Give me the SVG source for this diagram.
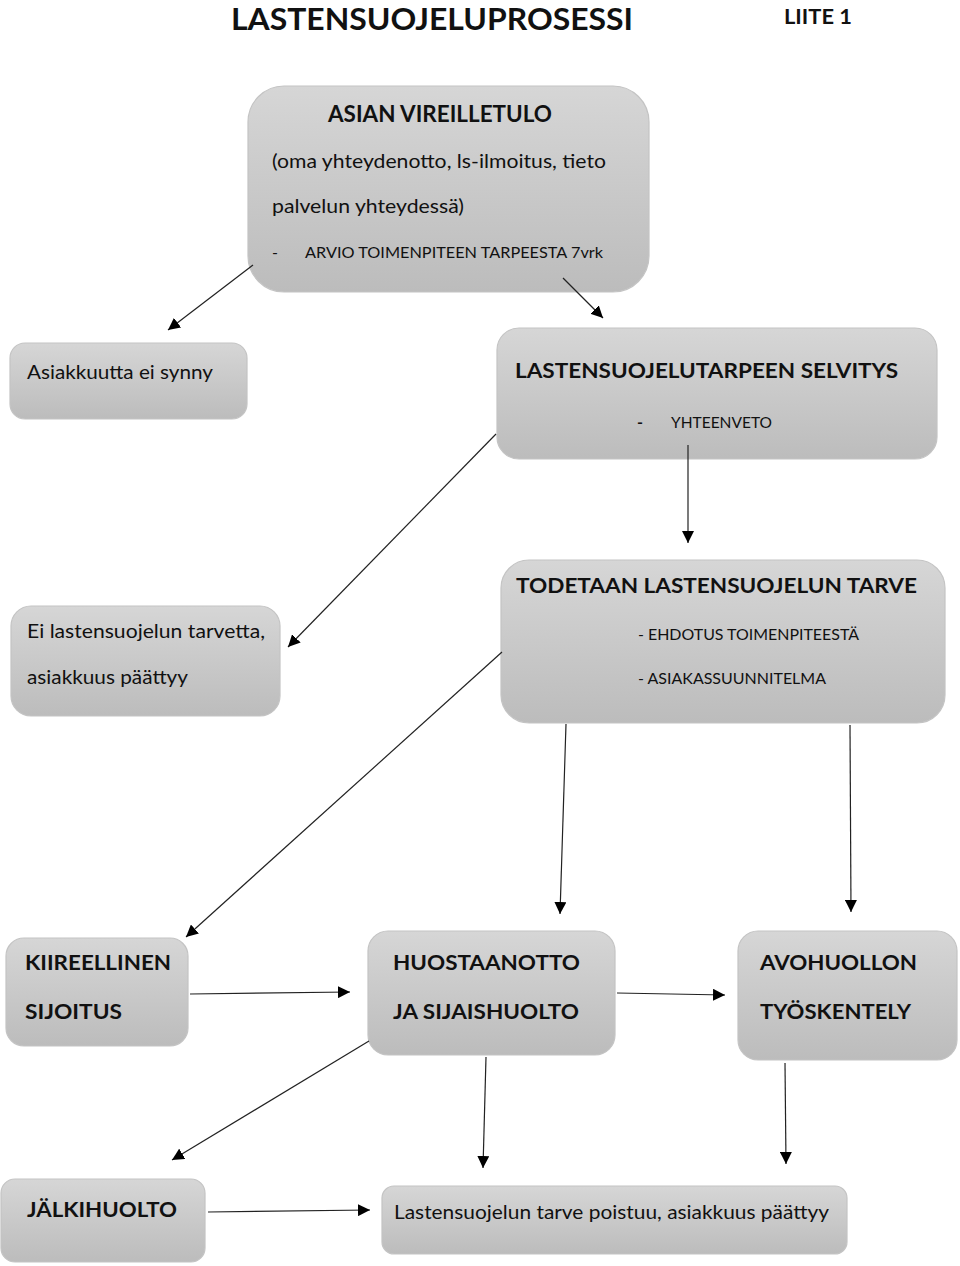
<svg xmlns="http://www.w3.org/2000/svg" width="960" height="1266" viewBox="0 0 960 1266">
<defs>
<linearGradient id="g" x1="0" y1="0" x2="0" y2="1">
<stop offset="0" stop-color="#d6d6d6"/>
<stop offset="1" stop-color="#bcbcbc"/>
</linearGradient>
<marker id="ah" viewBox="0 0 10 10" refX="10" refY="5" markerWidth="12" markerHeight="12" markerUnits="userSpaceOnUse" orient="auto">
<path d="M0,0 L10,5 L0,10 z" fill="#000"/>
</marker>
</defs>
<style>
.box{fill:url(#g);stroke:#c4c4c4;stroke-width:1.2}
text{font-family:Lato,"Open Sans","Liberation Sans",sans-serif;fill:#111}
.b{font-weight:bold}
.c line{stroke:#222;stroke-width:1.2;marker-end:url(#ah)}
</style>
<rect width="960" height="1266" fill="#fff"/>
<text class="b" x="231" y="30" font-size="30" textLength="402" lengthAdjust="spacingAndGlyphs">LASTENSUOJELUPROSESSI</text>
<text class="b" x="784" y="24" font-size="20" textLength="68" lengthAdjust="spacingAndGlyphs">LIITE 1</text>

<g id="vireilletulo">
<rect class="box" x="248" y="86" width="401" height="206" rx="36"/>
<text class="b" x="328" y="122" font-size="22" textLength="224" lengthAdjust="spacingAndGlyphs">ASIAN VIREILLETULO</text>
<text x="272" y="168" font-size="20" textLength="334" lengthAdjust="spacingAndGlyphs">(oma yhteydenotto, ls-ilmoitus, tieto</text>
<text x="272" y="213" font-size="20" textLength="192" lengthAdjust="spacingAndGlyphs">palvelun yhteydessä)</text>
<text x="272" y="258" font-size="16">-</text>
<text x="305" y="258" font-size="16" textLength="298" lengthAdjust="spacingAndGlyphs">ARVIO TOIMENPITEEN TARPEESTA 7vrk</text>
</g>
<g id="ei-synny">
<rect class="box" x="10" y="343" width="237" height="76" rx="15"/>
<text x="27" y="379" font-size="19.5" textLength="186" lengthAdjust="spacingAndGlyphs">Asiakkuutta ei synny</text>
</g>
<g id="selvitys">
<rect class="box" x="497" y="328" width="440" height="131" rx="22"/>
<text class="b" x="515" y="378" font-size="21" textLength="383" lengthAdjust="spacingAndGlyphs">LASTENSUOJELUTARPEEN SELVITYS</text>
<text class="b" x="637" y="428" font-size="16">-</text>
<text x="671" y="428" font-size="15" textLength="101" lengthAdjust="spacingAndGlyphs">YHTEENVETO</text>
</g>
<g id="ei-tarvetta">
<rect class="box" x="11" y="606" width="269" height="110" rx="20"/>
<text x="27" y="638" font-size="19.5" textLength="238" lengthAdjust="spacingAndGlyphs">Ei lastensuojelun tarvetta,</text>
<text x="27" y="684" font-size="19.5" textLength="161" lengthAdjust="spacingAndGlyphs">asiakkuus päättyy</text>
</g>
<g id="todetaan">
<rect class="box" x="501" y="560" width="444" height="163" rx="28"/>
<text class="b" x="516" y="593" font-size="21.5" textLength="401" lengthAdjust="spacingAndGlyphs">TODETAAN LASTENSUOJELUN TARVE</text>
<text x="638" y="640" font-size="16" textLength="221" lengthAdjust="spacingAndGlyphs">- EHDOTUS TOIMENPITEESTÄ</text>
<text x="638" y="684" font-size="16" textLength="188" lengthAdjust="spacingAndGlyphs">- ASIAKASSUUNNITELMA</text>
</g>
<g id="kiireellinen">
<rect class="box" x="6" y="938" width="182" height="108" rx="18"/>
<text class="b" x="25" y="970" font-size="21.5" textLength="146" lengthAdjust="spacingAndGlyphs">KIIREELLINEN</text>
<text class="b" x="25" y="1019" font-size="21.5" textLength="97" lengthAdjust="spacingAndGlyphs">SIJOITUS</text>
</g>
<g id="huostaanotto">
<rect class="box" x="368" y="931" width="247" height="124" rx="20"/>
<text class="b" x="393" y="970" font-size="21.5" textLength="187" lengthAdjust="spacingAndGlyphs">HUOSTAANOTTO</text>
<text class="b" x="393" y="1019" font-size="21.5" textLength="186" lengthAdjust="spacingAndGlyphs">JA SIJAISHUOLTO</text>
</g>
<g id="avohuolto">
<rect class="box" x="738" y="931" width="219" height="129" rx="20"/>
<text class="b" x="760" y="970" font-size="21.5" textLength="157" lengthAdjust="spacingAndGlyphs">AVOHUOLLON</text>
<text class="b" x="760" y="1019" font-size="21.5" textLength="151" lengthAdjust="spacingAndGlyphs">TYÖSKENTELY</text>
</g>
<g id="jalkihuolto">
<rect class="box" x="1" y="1179" width="204" height="83" rx="14"/>
<text class="b" x="27" y="1217" font-size="21.5" textLength="150" lengthAdjust="spacingAndGlyphs">JÄLKIHUOLTO</text>
</g>
<g id="poistuu">
<rect class="box" x="382" y="1186" width="465" height="68" rx="12"/>
<text x="394" y="1219" font-size="20" textLength="435" lengthAdjust="spacingAndGlyphs">Lastensuojelun tarve poistuu, asiakkuus päättyy</text>
</g>

<g id="connectors" class="c">
<line x1="253" y1="265" x2="168" y2="330"/>
<line x1="563" y1="278" x2="603" y2="318"/>
<line x1="496" y1="434" x2="288" y2="647"/>
<line x1="688" y1="445" x2="688" y2="543"/>
<line x1="502" y1="652" x2="186" y2="937"/>
<line x1="566" y1="724" x2="560" y2="914"/>
<line x1="850" y1="725" x2="851" y2="912"/>
<line x1="190" y1="994" x2="350" y2="992"/>
<line x1="617" y1="993" x2="725" y2="995"/>
<line x1="369" y1="1041" x2="172" y2="1160"/>
<line x1="486" y1="1057" x2="483" y2="1168"/>
<line x1="785" y1="1063" x2="786" y2="1164"/>
<line x1="208" y1="1212" x2="370" y2="1210"/>
</g>
</svg>
